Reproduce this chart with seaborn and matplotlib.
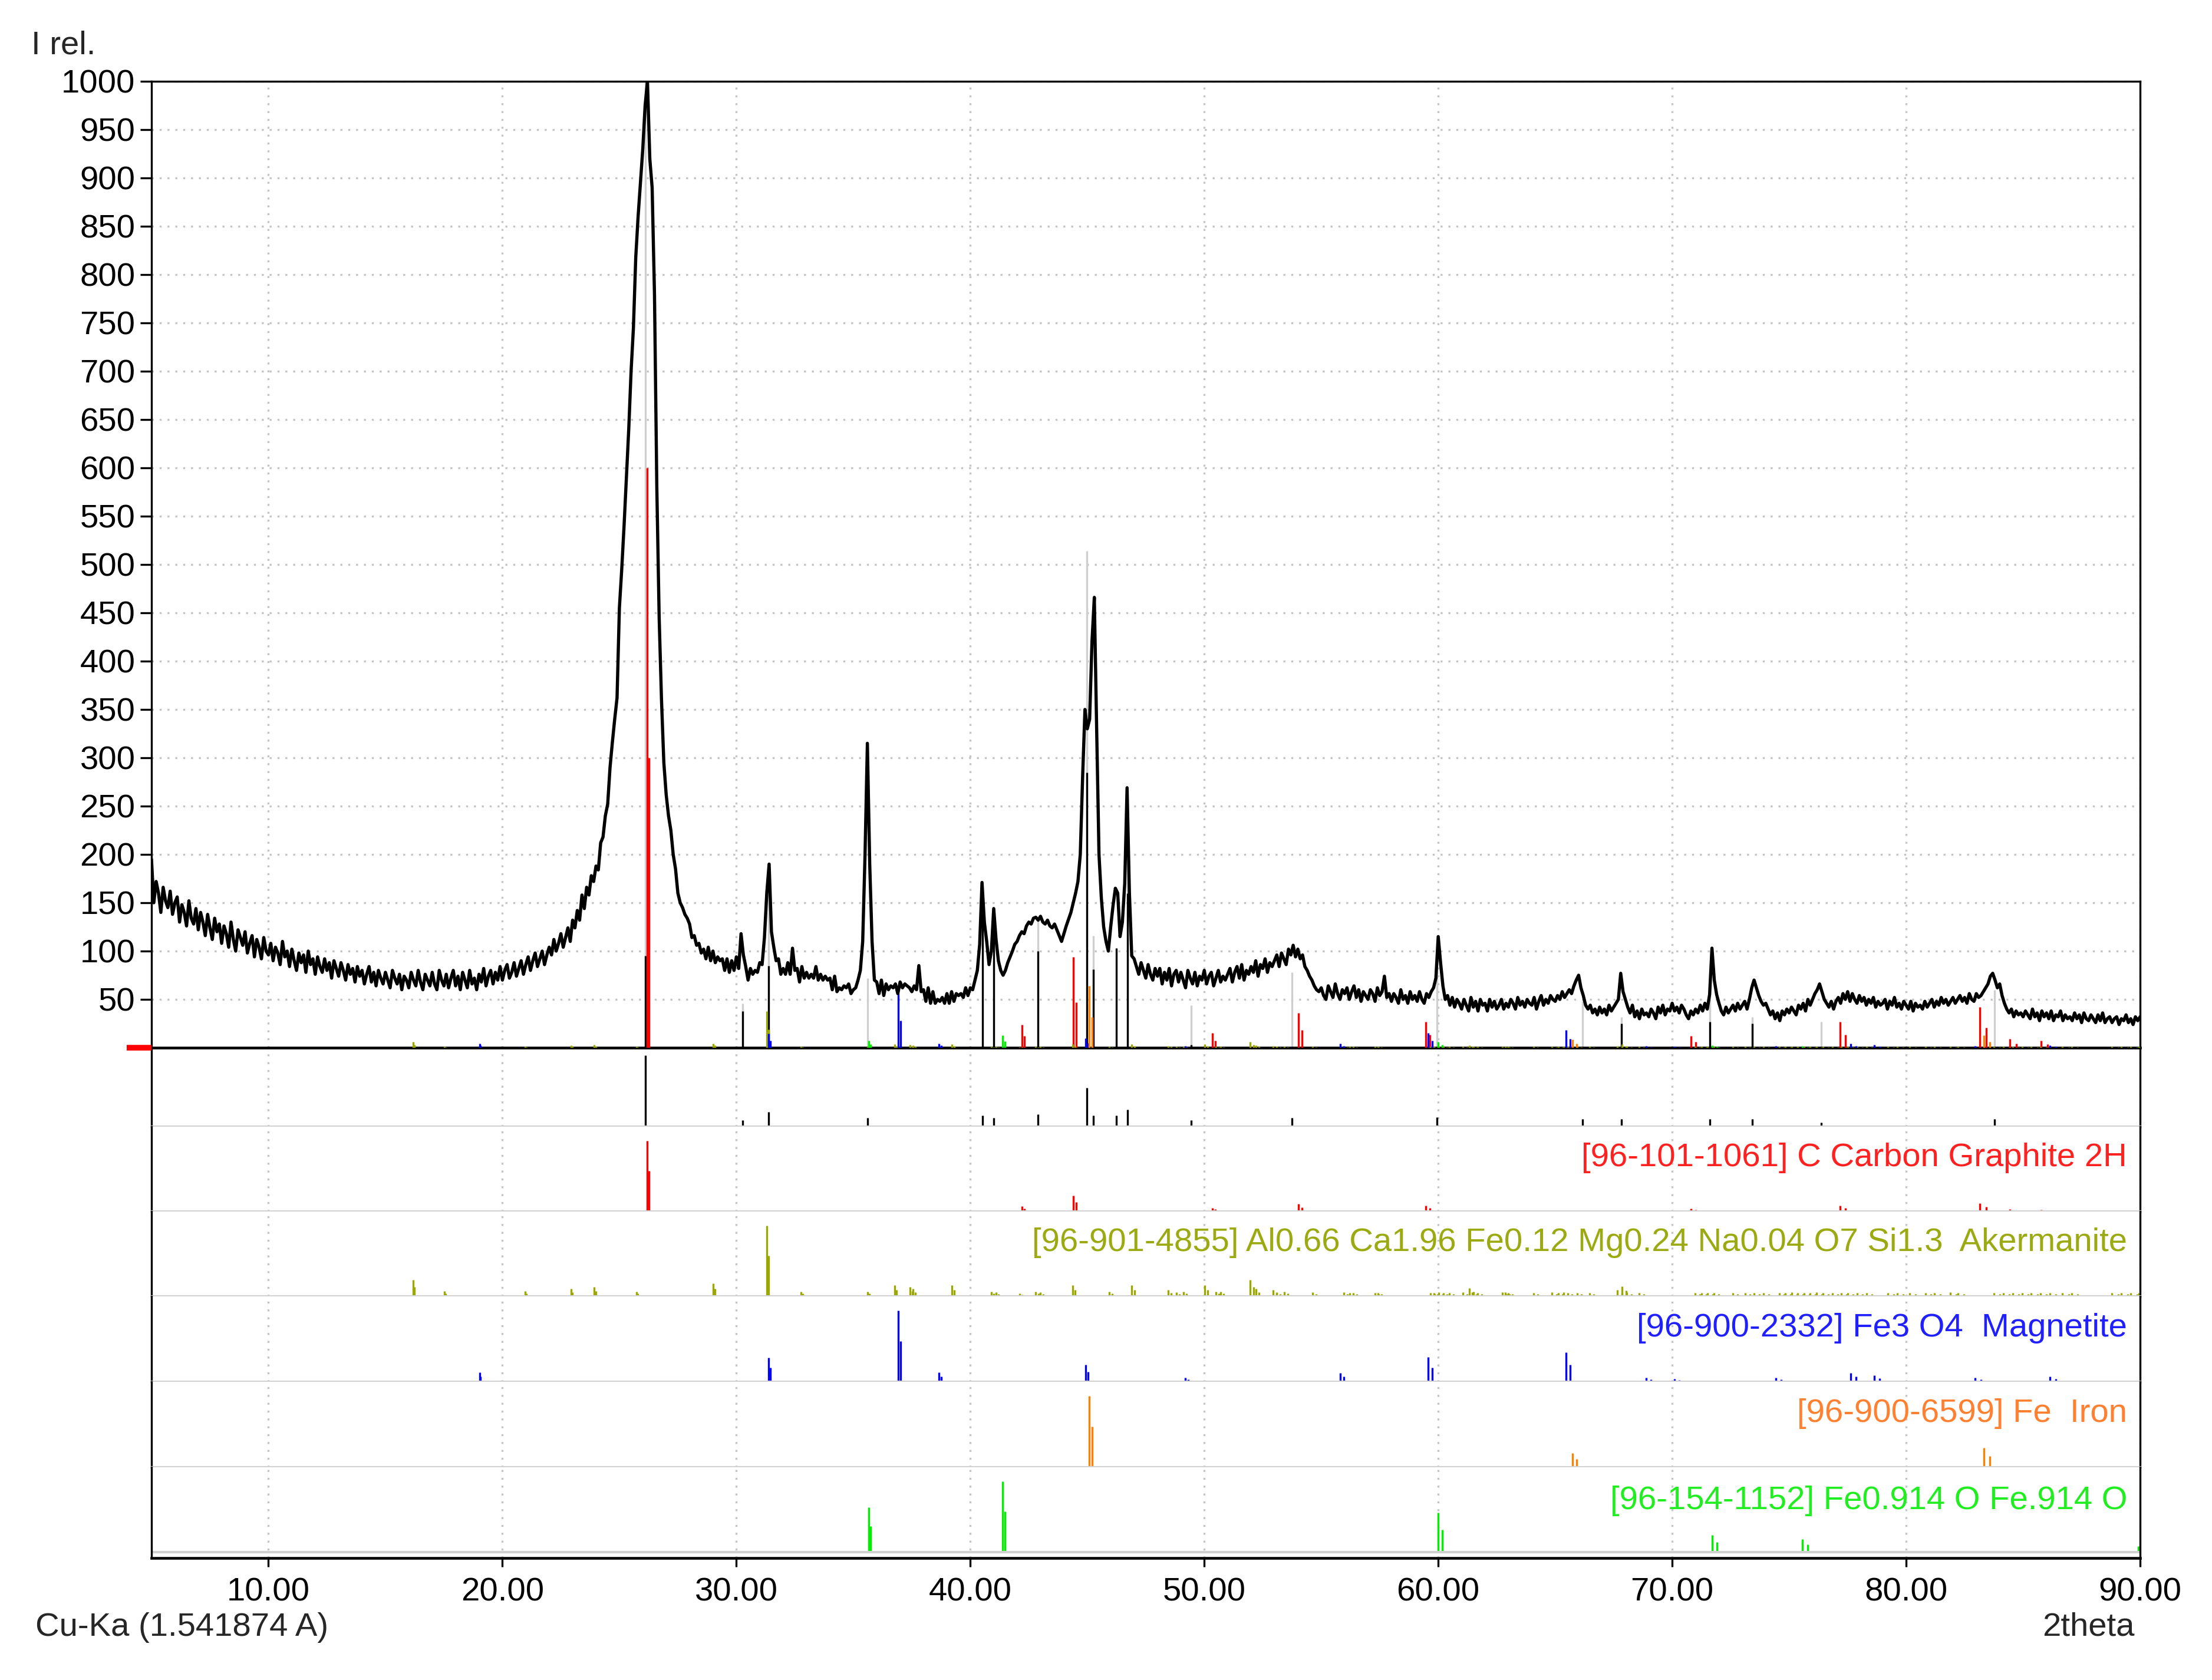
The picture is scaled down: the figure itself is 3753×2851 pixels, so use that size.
import numpy as np
import pandas as pd
import matplotlib
matplotlib.use("Agg")
import matplotlib.pyplot as plt
import seaborn as sns

# ---------------- data ----------------
theta_start = 5.0
theta_step = 0.1
intensity_obs = [
    195,150,172,160,140,166,152,145,162,138,
    150,156,130,148,140,126,152,134,128,144,
    122,140,130,116,138,124,112,134,120,128,
    108,126,118,104,130,112,100,122,114,106,
    120,98,108,116,94,112,104,92,114,100,
    96,108,90,104,98,86,110,94,100,84,
    102,90,80,98,88,96,78,100,86,92,
    76,94,84,78,92,80,88,72,90,82,
    74,88,80,70,86,76,82,68,84,74,
    80,66,76,84,68,78,64,80,72,66,
    78,70,62,80,72,66,76,60,74,70,
    62,78,70,64,80,68,60,76,70,64,
    78,66,60,80,70,64,76,62,72,80,
    64,74,60,78,70,62,80,66,72,60,
    76,68,82,64,74,80,66,78,70,84,
    70,80,86,72,78,88,74,82,90,76,
    86,94,80,90,98,84,92,100,86,96,
    104,96,112,100,108,118,104,114,124,110,
    132,124,142,132,158,144,166,158,178,172,
    188,184,212,218,240,252,290,316,340,362,
    455,495,540,590,640,700,745,818,860,895,
    930,975,1000,920,890,780,580,445,360,295,
    262,240,225,200,185,160,150,145,138,134,
    128,114,116,106,108,98,102,92,104,90,
    100,88,94,90,92,80,92,78,90,80,
    94,82,118,96,84,70,82,76,80,78,
    88,86,114,160,190,120,104,90,92,76,
    82,76,88,76,103,80,82,68,84,72,
    78,72,76,72,84,70,76,70,74,70,
    72,60,74,58,62,60,64,62,66,56,
    60,62,70,80,110,200,315,190,110,70,
    68,56,70,54,66,60,64,62,66,56,
    68,62,66,64,62,58,64,60,85,58,
    60,48,62,46,58,46,50,48,52,46,
    56,46,58,48,56,54,56,52,62,54,
    62,60,70,80,107,171,130,110,86,100,
    144,112,90,80,75,80,88,94,100,107,
    110,116,120,118,126,130,128,134,135,132,
    136,130,128,132,126,124,128,122,116,110,
    118,126,133,140,150,160,172,200,280,350,
    330,340,420,466,330,200,155,125,110,100,
    125,147,165,160,115,130,170,269,160,95,
    92,84,76,88,80,72,86,76,70,82,
    74,82,66,78,70,82,64,76,80,68,
    78,70,62,80,72,66,78,64,74,70,
    80,66,74,78,64,72,80,68,74,70,
    76,82,68,78,84,72,86,70,80,76,
    84,78,90,74,86,82,92,78,88,84,
    90,96,84,98,92,86,102,96,106,94,
    102,92,96,84,80,74,70,64,60,58,
    62,54,50,64,58,52,66,56,50,60,
    56,62,50,58,64,52,60,48,58,54,
    50,60,56,48,62,54,58,74,52,56,
    48,56,52,46,60,50,54,46,58,50,
    54,48,58,50,46,56,52,58,62,72,
    115,88,64,50,54,44,52,42,50,46,
    40,50,44,38,52,42,48,38,50,44,
    46,38,50,42,48,40,44,50,40,46,
    42,50,46,40,52,44,48,42,50,46,
    44,52,40,48,54,44,50,46,54,50,
    48,54,50,58,52,56,60,56,64,70,
    75,62,54,44,40,44,36,40,34,42,
    36,40,34,44,38,42,46,50,77,58,
    50,42,36,44,32,38,30,40,34,36,
    32,40,36,30,42,36,44,34,40,38,
    46,38,42,36,44,40,34,30,38,34,
    40,36,44,38,46,40,55,103,70,55,
    46,38,34,42,36,40,44,38,46,40,
    44,48,40,50,62,70,62,54,48,44,
    46,40,34,38,30,36,28,38,34,40,
    36,42,38,34,44,40,46,38,50,44,
    50,56,60,66,58,50,46,42,48,40,
    48,52,46,56,50,58,48,56,50,46,
    54,48,52,44,50,46,52,42,48,44,
    46,50,40,48,44,52,42,46,40,48,
    44,40,48,38,46,42,44,40,48,42,
    46,50,42,48,44,52,46,50,44,48,
    52,46,50,54,48,52,46,56,50,48,
    56,52,54,58,62,66,74,77,70,62,
    66,54,46,40,36,40,32,38,34,36,
    32,38,34,30,40,32,36,28,38,32,
    36,30,38,28,34,32,38,28,34,30,
    32,28,36,30,34,26,36,30,28,34,
    30,26,34,28,36,26,30,32,26,30,
    32,24,30,28,34,26,30,24,32,28,
    32,
]

# observed peak list (position, marker heights in main plot, relative height in strip)
obs_peak_pos = [26.12, 30.28, 31.38, 35.62, 40.51, 40.99, 42.89, 44.97, 45.26, 46.25,
                46.71, 49.44, 53.75, 59.95, 66.17, 67.82, 71.62, 73.43, 76.36, 83.78]
obs_peak_gray = [1000, 46, 171, 72, 0, 88, 131, 514, 116, 0,
                 199, 44, 78, 108, 48, 32, 70, 32, 27, 60]
obs_peak_black = [95, 38, 85, 0, 155, 144, 100, 285, 81, 103,
                  160, 3, 0, 0, 0, 25, 27, 25, 0, 0]
obs_peak_strip = [0.90, 0.08, 0.19, 0.11, 0.14, 0.11, 0.16, 0.49, 0.14, 0.14,
                  0.22, 0.08, 0.11, 0.12, 0.10, 0.10, 0.10, 0.10, 0.05, 0.10]

graphite_pos = [26.19, 42.2, 44.4, 50.35, 54.02, 59.47, 70.8, 77.18, 83.16, 84.44, 85.77]
graphite_rel = [100, 4, 15.7, 2.5, 6, 4.5, 2, 4.5, 7, 1.5, 1.2]

akermanite_pos = [16.19, 17.53, 20.96, 22.93, 23.93, 25.73, 29.02, 31.30, 32.76, 35.6,
                  36.76, 37.43, 37.55, 39.2, 40.9, 41.1, 42.1, 42.8, 43.0, 44.37,
                  45.94, 46.9, 48.45, 48.8, 49.12, 50.02, 50.5, 50.7, 51.97, 52.2,
                  52.95, 53.1, 53.43, 54.63, 55.96, 56.22, 56.36, 57.29, 57.42, 59.68,
                  59.81, 60.03, 60.21, 60.48, 61.06, 61.33, 61.46, 61.68, 62.74, 62.87,
                  63.0, 64.07, 64.87, 65.13, 65.35, 65.53, 65.93, 66.46, 67.66, 67.85,
                  68.06, 68.59, 70.98, 71.25, 71.52, 71.78, 72.58, 73.11, 73.51, 73.91,
                  74.57, 74.84, 75.11, 75.37, 75.64, 75.9, 76.17, 76.44, 76.84, 77.23,
                  77.5, 77.9, 78.3, 79.23, 79.63, 80.16, 80.82, 81.22, 81.89, 82.21,
                  83.75, 84.15, 84.55, 84.95, 85.35, 85.74, 86.14, 86.68, 87.07, 88.8,
                  89.2, 89.6, 89.95]
akermanite_rel = [16, 4, 4, 6, 8, 3.5, 12, 100, 3.5, 3.5,
                  10, 8, 6, 10, 3.5, 3, 2, 3.5, 3, 10,
                  3.5, 10, 5, 3, 3.5, 10, 3.5, 3.5, 16, 6,
                  5, 3, 3.5, 3, 3, 2.5, 2.5, 2.5, 2.5, 2.5,
                  2.5, 3, 2.5, 2.5, 3, 7, 3, 2.5, 3, 3,
                  2.5, 2.5, 3, 2.5, 3, 2.5, 2.5, 2.5, 5, 9,
                  3, 2.5, 2.5, 2.5, 2.5, 2.5, 2.5, 2.5, 2.5, 2.5,
                  2.5, 2.5, 3, 2.5, 2.5, 2.5, 3, 2.5, 2.5, 2.5,
                  2.5, 2.5, 2.5, 2.5, 2.5, 2.5, 2.5, 2.5, 3, 2.5,
                  2.5, 2.5, 2.5, 2.5, 2.5, 2.5, 2.5, 2.5, 2.5, 2.5,
                  2.5, 2.5, 2.5]

magnetite_pos = [19.02, 31.38, 36.92, 38.66, 44.92, 49.18, 55.82, 59.57, 65.45, 68.9,
                 70.1, 74.44, 77.63, 78.64, 82.95, 86.14]
magnetite_rel = [8, 26, 100, 8, 17, 3, 7.5, 27, 33, 3,
                 2, 3, 7.5, 5, 3, 4]

iron_pos = [45.08, 65.74, 83.32]
iron_rel = [100, 13, 20]

wustite_pos = [35.65, 41.38, 60.0, 71.7, 75.56, 89.93]
wustite_rel = [57, 100, 48, 17, 12, 4.5]

phase_labels = ["[96-101-1061] C Carbon Graphite 2H",
                "[96-901-4855] Al0.66 Ca1.96 Fe0.12 Mg0.24 Na0.04 O7 Si1.3  Akermanite",
                "[96-900-2332] Fe3 O4  Magnetite",
                "[96-900-6599] Fe  Iron",
                "[96-154-1152] Fe0.914 O Fe.914 O"]
phase_main_scale = [600, 38, 56, 64, 13]   # intensity of the 100% line in the main plot
x_tick_values = [10, 20, 30, 40, 50, 60, 70, 80, 90]
y_tick_values = list(range(50, 1001, 50))

# ---------------- styling ----------------
phase_colors = ["#ff0000", "#9aa800", "#0000ff", "#ff8000", "#00f000"]
label_colors = ["#ff2020", "#9aaa10", "#2020ff", "#ff8030", "#20ee20"]
GRID = "#c4c4c4"
SEP = "#d2d2d2"
FS = 13.5

sns.set_theme(style="white")
plt.rcParams["font.family"] = ["Liberation Sans", "DejaVu Sans"]

phases = [(np.array(graphite_pos), np.array(graphite_rel)),
          (np.array(akermanite_pos), np.array(akermanite_rel)),
          (np.array(magnetite_pos), np.array(magnetite_rel)),
          (np.array(iron_pos), np.array(iron_rel)),
          (np.array(wustite_pos), np.array(wustite_rel))]

LAMBDA_RATIO = 1.54439 / 1.54056  # Cu Ka2 / Ka1


def ka2(pos):
    th = np.radians(pos / 2.0)
    return 2.0 * np.degrees(np.arcsin(np.clip(np.sin(th) * LAMBDA_RATIO, -1, 1)))


W, H = 3753, 2851
DPI = 300
fig = plt.figure(figsize=(W / DPI, H / DPI), dpi=DPI)

left = 257 / W
width = (3631 - 257) / W


def frac_axes(top_px, bot_px):
    return fig.add_axes([left, 1 - bot_px / H, width, (bot_px - top_px) / H])


ax = frac_axes(138, 1778)
strip_px = [(1778, 1912), (1912, 2056), (2056, 2200), (2200, 2345), (2345, 2490), (2490, 2644)]
strips = [frac_axes(t, b) for t, b in strip_px]

# ---------------- main plot ----------------
df = pd.DataFrame({
    "two_theta": theta_start + theta_step * np.arange(len(intensity_obs)),
    "intensity": intensity_obs,
})

ax.vlines(obs_peak_pos, 0, obs_peak_gray, colors="#cfcfcf", lw=0.8, zorder=2)
ax.vlines(obs_peak_pos, 0, obs_peak_black, colors="black", lw=0.8, zorder=3)
for (pos, rel), col, sc in zip(phases, phase_colors, phase_main_scale):
    ax.vlines(ka2(pos), 0, rel * sc / 100 * 0.5, colors=col, lw=0.8, zorder=4)
    ax.vlines(pos, 0, rel * sc / 100, colors=col, lw=0.8, zorder=4)

sns.lineplot(data=df, x="two_theta", y="intensity", ax=ax, color="black",
             lw=1.3, estimator=None, sort=False, zorder=5)

ax.set_xlim(5, 90)
ax.set_ylim(0, 1000)
ax.set_yticks(y_tick_values)
ax.set_yticklabels([str(v) for v in y_tick_values])
ax.set_xticks(x_tick_values)
ax.tick_params(axis="x", length=0, labelbottom=False)
ax.tick_params(axis="y", direction="out", length=4.6, width=0.8, labelsize=FS, pad=2,
               left=True, colors="black")
ax.grid(True, axis="both", color=GRID, ls=(0, (1, 3)), lw=0.8)
ax.set_xlabel("")
ax.set_ylabel("")
for s in ["top", "left", "right"]:
    ax.spines[s].set_color("black")
    ax.spines[s].set_linewidth(0.8)
ax.spines["bottom"].set_color("black")
ax.spines["bottom"].set_linewidth(1.1)
ax.set_zorder(3)
ax.patch.set_alpha(0)
ax.plot([-0.0125, 0.0], [0, 0], transform=ax.transAxes, color="red", lw=2.3,
        clip_on=False, solid_capstyle="butt", zorder=6)


# ---------------- strips ----------------
def fwd(y):
    return np.sign(y) * np.abs(y) ** 0.8


def inv(y):
    return np.sign(y) * np.abs(y) ** 1.25


for i, sax in enumerate(strips):
    sax.set_xlim(5, 90)
    sax.set_xticks(x_tick_values)
    sax.grid(True, axis="x", color=GRID, ls=(0, (1, 3)), lw=0.8)
    sax.set_yticks([])
    sax.spines["top"].set_visible(False)
    for s in ["left", "right"]:
        sax.spines[s].set_color("black")
        sax.spines[s].set_linewidth(0.8)
    sax.spines["bottom"].set_color(SEP)
    sax.spines["bottom"].set_linewidth(1.0)
    if i < len(strips) - 1:
        sax.tick_params(axis="x", length=0, labelbottom=False)

# observed peak strip
strips[0].vlines(obs_peak_pos, 0, obs_peak_strip, colors="black", lw=0.8)
strips[0].set_ylim(0, 1)

for k, ((pos, rel), col, lab, lcol) in enumerate(zip(phases, phase_colors, phase_labels, label_colors)):
    sax = strips[k + 1]
    sax.set_yscale("function", functions=(fwd, inv))
    sax.vlines(ka2(pos), 0, rel * 0.5, colors=col, lw=0.8)
    sax.vlines(pos, 0, rel, colors=col, lw=0.8)
    if k == 4:
        sax.set_ylim(-4.5, 126)
        sax.axhline(0, color=SEP, lw=1.0)
    else:
        sax.set_ylim(0, 126)
    sax.set_yticks([])
    sax.minorticks_off()
    sax.text(0.9935, 0.63, lab, transform=sax.transAxes, ha="right", va="center",
             color=lcol, fontsize=FS)

bax = strips[-1]
bax.spines["bottom"].set_color("black")
bax.spines["bottom"].set_linewidth(1.1)
bax.set_xticks(x_tick_values)
bax.set_xticklabels([f"{v:.2f}" for v in x_tick_values])
bax.tick_params(axis="x", direction="out", length=3.7, width=0.8, labelsize=FS, pad=4,
                bottom=True, colors="black")

fig.text(53 / W, 1 - 77 / H, "I rel.", ha="left", va="center", fontsize=FS)
fig.text(60 / W, 1 - 2762 / H, "Cu-Ka (1.541874 A)", ha="left", va="center", fontsize=FS)
fig.text(3622 / W, 1 - 2762 / H, "2theta", ha="right", va="center", fontsize=FS)

fig.savefig("out.png", dpi=DPI, facecolor="white")
